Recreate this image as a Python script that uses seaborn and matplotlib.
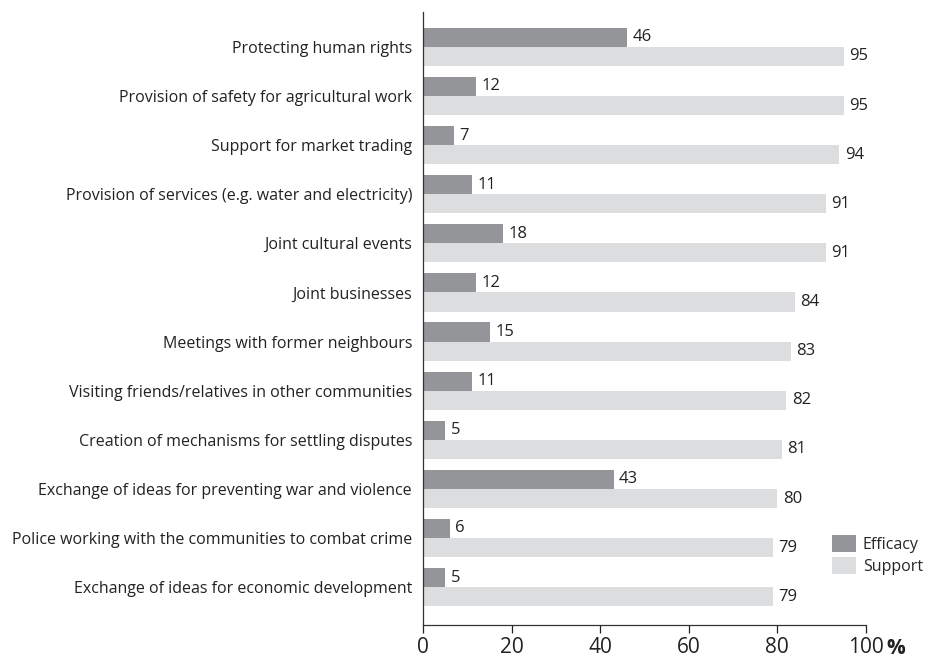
import seaborn as sns
import pandas as pd
from matplotlib import pyplot as plt

categories = [
    'Protecting human rights',
    'Provision of safety for agricultural work',
    'Support for market trading',
    'Provision of services (e.g. water and electricity)',
    'Joint cultural events',
    'Joint businesses',
    'Meetings with former neighbours',
    'Visiting friends/relatives in other communities',
    'Creation of mechanisms for settling disputes',
    'Exchange of ideas for preventing war and violence',
    'Police working with the communities to combat crime',
    'Exchange of ideas for economic development',
]
efficacy = [46, 12, 7, 11, 18, 12, 15, 11, 5, 43, 6, 5]
support = [95, 95, 94, 91, 91, 84, 83, 82, 81, 80, 79, 79]
series = ['Efficacy', 'Support']
colors = ['#939598', '#dcddde']

df = pd.DataFrame({
    'category': categories * 2,
    'value': efficacy + support,
    'series': ['Efficacy'] * len(categories) + ['Support'] * len(categories),
})

sns.set_style('white')
plt.rcParams['font.family'] = ['Open Sans', 'DejaVu Sans']

fig = plt.figure(figsize=(9.28, 6.59), dpi=100)
ax = fig.add_axes([0.456, 0.0516, 0.477, 0.9302])

sns.barplot(data=df, y='category', x='value', hue='series', order=categories,
            hue_order=series, palette=colors, width=0.78, orient='h',
            saturation=1, ax=ax, errorbar=None, linewidth=0)

for cont in ax.containers:
    ax.bar_label(cont, padding=4, fontsize=12, color='#222222')

ax.set_xlim(0, 100)
ax.set_ylim(11.77, -0.71)
ax.set_xticks([0, 20, 40, 60, 80, 100])
ax.tick_params(axis='x', labelsize=15, length=6, width=0.9, direction='out',
               colors='#222222', bottom=True, pad=3)
ax.tick_params(axis='y', labelsize=11.5, length=0, pad=8, colors='#222222')
ax.set_xlabel('')
ax.set_ylabel('')
for s in ['top', 'right']:
    ax.spines[s].set_visible(False)
for s in ['left', 'bottom']:
    ax.spines[s].set_color('#333333')
    ax.spines[s].set_linewidth(0.9)

ax.annotate('%', xy=(1.0, 0.0), xycoords='axes fraction',
            xytext=(15, -9.5), textcoords='offset points', fontsize=15,
            fontweight='bold', va='top', ha='left', color='#222222')

ax.legend(title=None, frameon=False, loc='lower left',
          bbox_to_anchor=(0.89, 0.118), bbox_transform=fig.transFigure,
          fontsize=11.5, handlelength=1.5, handleheight=1.25,
          handletextpad=0.4, labelspacing=0.25, borderaxespad=0)

fig.savefig('out.png', dpi=100)
